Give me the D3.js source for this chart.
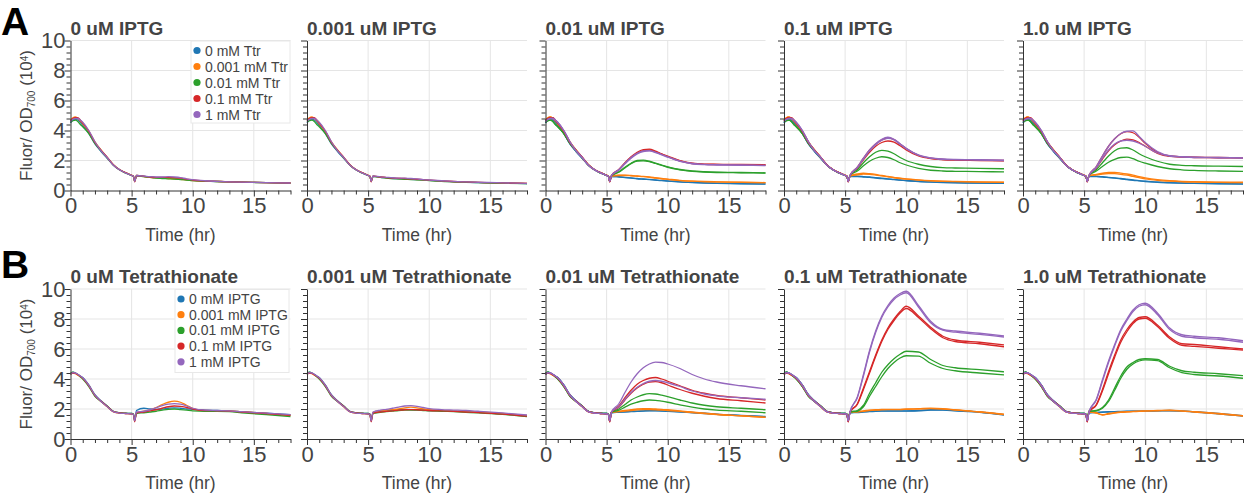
<!DOCTYPE html>
<html>
<head>
<meta charset="utf-8">
<script src="https://cdn.jsdelivr.net/npm/d3@7"></script>
<style>
  body { margin: 0; background: #fff; }
  svg { font-family: "Liberation Sans", Arial, Helvetica, sans-serif; display: block; }
</style>
</head>
<body>
<div id="chart"></div>
<script>
// time points (hr) - early phase shared by a row, late phase per series
const timeEarly = [0, 0.2, 0.4, 0.6, 0.8, 1.0, 1.5, 2.0, 2.5, 3.0, 3.5, 4.0, 4.5, 5.0, 5.15, 5.25];
const timeLate = [5.4, 6, 6.5, 7, 7.5, 8, 8.5, 9, 9.5, 10, 11, 12, 13, 14, 16, 18];

const titlesA = ["0 uM IPTG", "0.001 uM IPTG", "0.01 uM IPTG", "0.1 uM IPTG", "1.0 uM IPTG"];
const titlesB = ["0 uM Tetrathionate", "0.001 uM Tetrathionate", "0.01 uM Tetrathionate", "0.1 uM Tetrathionate", "1.0 uM Tetrathionate"];
const legendA = ["0 mM Ttr", "0.001 mM Ttr", "0.01 mM Ttr", "0.1 mM Ttr", "1 mM Ttr"];
const legendB = ["0 mM IPTG", "0.001 mM IPTG", "0.01 mM IPTG", "0.1 mM IPTG", "1 mM IPTG"];
const colors = ["#1f77b4", "#ff7f0e", "#2ca02c", "#d62728", "#9467bd"];

// early phase, one per colour (blue, orange, green, red, purple)
const earlyA = [
  [4.5, 4.7, 4.75, 4.7, 4.55, 4.35, 3.8, 3.1, 2.6, 2.15, 1.7, 1.38, 1.18, 1.0, 0.93, 0.62],
  [4.7, 4.85, 4.9, 4.8, 4.65, 4.45, 3.95, 3.25, 2.7, 2.2, 1.72, 1.4, 1.2, 1.02, 0.95, 0.6],
  [4.55, 4.65, 4.7, 4.6, 4.4, 4.25, 3.8, 3.15, 2.65, 2.18, 1.7, 1.38, 1.17, 1.0, 0.94, 0.62],
  [4.65, 4.8, 4.85, 4.85, 4.7, 4.5, 3.95, 3.2, 2.68, 2.22, 1.72, 1.4, 1.19, 1.01, 0.95, 0.58],
  [4.6, 4.75, 4.8, 4.8, 4.7, 4.55, 4.0, 3.25, 2.65, 2.2, 1.7, 1.39, 1.18, 1.0, 0.94, 0.6]
];
const earlyB = [
  [4.35, 4.45, 4.4, 4.3, 4.2, 4.1, 3.6, 2.95, 2.55, 2.2, 1.85, 1.75, 1.72, 1.7, 1.65, 1.2],
  [4.3, 4.4, 4.35, 4.25, 4.15, 4.05, 3.55, 2.9, 2.5, 2.15, 1.82, 1.72, 1.7, 1.68, 1.63, 1.25],
  [4.4, 4.45, 4.4, 4.3, 4.15, 4.0, 3.5, 2.85, 2.5, 2.2, 1.85, 1.75, 1.72, 1.7, 1.66, 1.3],
  [4.35, 4.4, 4.38, 4.28, 4.18, 4.05, 3.55, 2.9, 2.52, 2.18, 1.83, 1.74, 1.7, 1.68, 1.62, 1.15],
  [4.3, 4.42, 4.4, 4.32, 4.2, 4.08, 3.58, 2.92, 2.5, 2.16, 1.82, 1.73, 1.7, 1.68, 1.64, 1.22]
];

// late phase per panel: 5 series (one per colour) or 10 series (two replicates per colour)
const lateA1 = [
  [1.0, 0.95, 0.9, 0.86, 0.84, 0.82, 0.8, 0.76, 0.72, 0.68, 0.63, 0.6, 0.58, 0.56, 0.53, 0.5],
  [1.0, 0.93, 0.88, 0.84, 0.82, 0.8, 0.78, 0.75, 0.7, 0.66, 0.62, 0.6, 0.58, 0.56, 0.53, 0.5],
  [0.98, 0.92, 0.87, 0.82, 0.8, 0.78, 0.76, 0.73, 0.7, 0.66, 0.62, 0.6, 0.57, 0.55, 0.52, 0.49],
  [1.0, 0.95, 0.9, 0.88, 0.88, 0.88, 0.86, 0.82, 0.76, 0.7, 0.64, 0.61, 0.58, 0.56, 0.53, 0.5],
  [1.0, 0.96, 0.92, 0.9, 0.9, 0.92, 0.9, 0.86, 0.78, 0.72, 0.65, 0.61, 0.58, 0.56, 0.53, 0.5]
];
const lateA2 = [
  [0.95, 0.88, 0.84, 0.8, 0.78, 0.76, 0.74, 0.72, 0.7, 0.67, 0.62, 0.58, 0.55, 0.53, 0.5, 0.46],
  [0.96, 0.9, 0.86, 0.82, 0.8, 0.78, 0.76, 0.73, 0.7, 0.68, 0.63, 0.59, 0.56, 0.54, 0.5, 0.47],
  [0.94, 0.87, 0.83, 0.79, 0.77, 0.75, 0.73, 0.71, 0.69, 0.66, 0.61, 0.58, 0.55, 0.52, 0.49, 0.45],
  [0.96, 0.9, 0.86, 0.83, 0.81, 0.8, 0.78, 0.75, 0.72, 0.69, 0.64, 0.6, 0.57, 0.54, 0.51, 0.47],
  [0.97, 0.91, 0.88, 0.85, 0.83, 0.82, 0.8, 0.77, 0.73, 0.7, 0.65, 0.61, 0.57, 0.55, 0.51, 0.48]
];
const lateA3 = [
  [0.95, 0.92, 0.88, 0.84, 0.8, 0.77, 0.74, 0.7, 0.67, 0.64, 0.58, 0.54, 0.51, 0.49, 0.46, 0.44],
  [0.95, 0.9, 0.86, 0.82, 0.78, 0.75, 0.72, 0.69, 0.66, 0.62, 0.57, 0.53, 0.5, 0.48, 0.45, 0.43],
  [0.97, 1.02, 1.02, 1.0, 0.97, 0.94, 0.9, 0.85, 0.8, 0.76, 0.68, 0.63, 0.6, 0.58, 0.55, 0.53],
  [0.96, 1.0, 1.0, 0.98, 0.95, 0.92, 0.88, 0.83, 0.78, 0.74, 0.66, 0.62, 0.59, 0.57, 0.54, 0.52],
  [0.98, 1.25, 1.55, 1.82, 2.0, 2.02, 1.95, 1.82, 1.7, 1.58, 1.4, 1.3, 1.25, 1.22, 1.2, 1.18],
  [0.98, 1.22, 1.5, 1.78, 1.96, 1.98, 1.92, 1.8, 1.68, 1.55, 1.38, 1.28, 1.23, 1.2, 1.18, 1.16],
  [1.0, 1.4, 1.85, 2.25, 2.55, 2.72, 2.76, 2.62, 2.45, 2.3, 2.0, 1.82, 1.76, 1.75, 1.74, 1.72],
  [1.0, 1.38, 1.8, 2.2, 2.5, 2.66, 2.7, 2.58, 2.42, 2.26, 1.97, 1.8, 1.74, 1.73, 1.72, 1.7],
  [1.0, 1.38, 1.82, 2.2, 2.48, 2.64, 2.66, 2.55, 2.4, 2.25, 1.96, 1.8, 1.74, 1.72, 1.7, 1.68],
  [1.0, 1.36, 1.78, 2.15, 2.44, 2.6, 2.64, 2.52, 2.38, 2.22, 1.94, 1.78, 1.72, 1.7, 1.68, 1.66]
];
const lateA4 = [
  [0.95, 0.95, 0.93, 0.9, 0.86, 0.82, 0.78, 0.74, 0.7, 0.67, 0.61, 0.57, 0.54, 0.52, 0.5, 0.48],
  [0.95, 0.93, 0.9, 0.87, 0.83, 0.79, 0.76, 0.72, 0.69, 0.65, 0.6, 0.56, 0.53, 0.51, 0.49, 0.47],
  [0.98, 1.1, 1.15, 1.12, 1.07, 1.0, 0.94, 0.88, 0.82, 0.78, 0.71, 0.66, 0.63, 0.61, 0.58, 0.56],
  [0.97, 1.05, 1.1, 1.08, 1.03, 0.97, 0.91, 0.85, 0.8, 0.76, 0.69, 0.64, 0.61, 0.59, 0.56, 0.54],
  [1.0, 1.4, 1.85, 2.25, 2.55, 2.68, 2.62, 2.45, 2.2, 2.0, 1.75, 1.6, 1.52, 1.5, 1.48, 1.45],
  [1.0, 1.3, 1.65, 1.95, 2.15, 2.25, 2.2, 2.05, 1.85, 1.7, 1.48, 1.35, 1.3, 1.28, 1.26, 1.24],
  [1.0, 1.55, 2.15, 2.7, 3.1, 3.38, 3.5, 3.4, 3.1, 2.8, 2.35, 2.15, 2.08, 2.05, 2.02, 2.0],
  [1.0, 1.5, 2.05, 2.55, 2.95, 3.2, 3.3, 3.22, 2.98, 2.7, 2.3, 2.12, 2.05, 2.02, 2.0, 1.97],
  [1.0, 1.55, 2.15, 2.7, 3.12, 3.42, 3.55, 3.42, 3.12, 2.82, 2.38, 2.18, 2.1, 2.07, 2.05, 2.02],
  [1.0, 1.52, 2.1, 2.65, 3.05, 3.35, 3.48, 3.38, 3.08, 2.78, 2.35, 2.16, 2.08, 2.05, 2.03, 2.0]
];
const lateA5 = [
  [0.95, 0.95, 0.92, 0.88, 0.84, 0.8, 0.75, 0.7, 0.66, 0.62, 0.56, 0.52, 0.5, 0.48, 0.46, 0.44],
  [0.95, 0.93, 0.9, 0.86, 0.82, 0.78, 0.73, 0.68, 0.64, 0.6, 0.55, 0.51, 0.49, 0.47, 0.45, 0.43],
  [0.98, 1.08, 1.15, 1.2, 1.2, 1.16, 1.1, 1.02, 0.92, 0.84, 0.72, 0.65, 0.61, 0.59, 0.56, 0.55],
  [0.97, 1.04, 1.1, 1.13, 1.12, 1.08, 1.02, 0.94, 0.86, 0.78, 0.68, 0.62, 0.58, 0.56, 0.54, 0.52],
  [1.0, 1.4, 1.85, 2.3, 2.65, 2.82, 2.85, 2.7, 2.45, 2.25, 1.95, 1.75, 1.68, 1.65, 1.62, 1.6],
  [1.0, 1.3, 1.6, 1.88, 2.08, 2.2, 2.22, 2.12, 1.95, 1.82, 1.6, 1.45, 1.38, 1.34, 1.3, 1.28],
  [1.0, 1.6, 2.3, 2.95, 3.45, 3.78, 3.92, 3.85, 3.55, 3.15, 2.55, 2.3, 2.25, 2.22, 2.2, 2.18],
  [1.0, 1.5, 2.1, 2.65, 3.05, 3.3, 3.42, 3.38, 3.2, 2.95, 2.48, 2.27, 2.22, 2.2, 2.18, 2.16],
  [1.0, 1.6, 2.3, 2.95, 3.45, 3.8, 3.95, 3.98, 3.6, 3.2, 2.6, 2.32, 2.25, 2.22, 2.2, 2.18],
  [1.0, 1.52, 2.15, 2.7, 3.1, 3.3, 3.35, 3.3, 3.15, 2.95, 2.5, 2.3, 2.24, 2.2, 2.18, 2.16]
];
const lateB1 = [
  [1.9, 2.05, 2.0, 1.98, 2.0, 2.05, 2.08, 2.05, 2.0, 1.98, 1.92, 1.9, 1.88, 1.82, 1.72, 1.62],
  [1.75, 1.85, 1.95, 2.1, 2.3, 2.45, 2.52, 2.45, 2.25, 2.05, 1.85, 1.85, 1.88, 1.82, 1.7, 1.58],
  [1.7, 1.75, 1.8, 1.85, 1.92, 1.98, 2.0, 1.96, 1.92, 1.88, 1.85, 1.85, 1.82, 1.75, 1.62, 1.5],
  [1.75, 1.8, 1.88, 1.95, 2.05, 2.15, 2.2, 2.18, 2.1, 2.0, 1.9, 1.88, 1.86, 1.8, 1.7, 1.58],
  [1.8, 1.85, 1.95, 2.08, 2.22, 2.32, 2.36, 2.32, 2.2, 2.05, 1.92, 1.9, 1.88, 1.82, 1.72, 1.62]
];
const lateB2 = [
  [1.75, 1.85, 1.88, 1.92, 1.95, 1.97, 1.96, 1.94, 1.92, 1.9, 1.88, 1.85, 1.82, 1.78, 1.68, 1.55],
  [1.78, 1.88, 1.92, 1.96, 2.0, 2.08, 2.12, 2.08, 2.0, 1.95, 1.9, 1.87, 1.84, 1.8, 1.7, 1.57],
  [1.7, 1.78, 1.82, 1.86, 1.9, 1.92, 1.93, 1.92, 1.9, 1.88, 1.85, 1.82, 1.78, 1.74, 1.64, 1.5],
  [1.72, 1.8, 1.84, 1.88, 1.92, 1.95, 1.96, 1.95, 1.93, 1.9, 1.87, 1.84, 1.8, 1.76, 1.66, 1.52],
  [1.8, 1.92, 1.98, 2.05, 2.12, 2.2, 2.22, 2.18, 2.1, 2.02, 1.96, 1.93, 1.9, 1.85, 1.74, 1.6]
];
const lateB3 = [
  [1.75, 1.8, 1.82, 1.84, 1.86, 1.88, 1.9, 1.9, 1.88, 1.86, 1.82, 1.78, 1.72, 1.66, 1.58, 1.5],
  [1.75, 1.78, 1.8, 1.82, 1.84, 1.86, 1.87, 1.87, 1.86, 1.84, 1.8, 1.75, 1.7, 1.64, 1.56, 1.48],
  [1.78, 1.85, 1.9, 1.95, 2.0, 2.02, 2.02, 2.0, 1.98, 1.95, 1.88, 1.8, 1.72, 1.65, 1.55, 1.45],
  [1.76, 1.82, 1.86, 1.9, 1.94, 1.96, 1.96, 1.95, 1.93, 1.9, 1.84, 1.76, 1.7, 1.63, 1.54, 1.44],
  [1.8, 2.0, 2.3, 2.6, 2.8, 2.95, 3.02, 3.0, 2.92, 2.82, 2.6, 2.4, 2.25, 2.15, 2.05, 1.95],
  [1.78, 1.92, 2.12, 2.32, 2.45, 2.55, 2.6, 2.58, 2.52, 2.45, 2.28, 2.12, 2.0, 1.92, 1.85, 1.75],
  [1.8, 2.2, 2.75, 3.25, 3.65, 3.9, 4.05, 4.1, 4.0, 3.85, 3.55, 3.25, 3.05, 2.9, 2.75, 2.6],
  [1.8, 2.12, 2.6, 3.05, 3.4, 3.65, 3.8, 3.82, 3.75, 3.6, 3.3, 3.05, 2.85, 2.7, 2.55, 2.4],
  [1.8, 2.35, 3.1, 3.8, 4.35, 4.75, 5.0, 5.12, 5.1, 5.0, 4.7, 4.3, 4.0, 3.8, 3.55, 3.35],
  [1.8, 2.15, 2.65, 3.1, 3.45, 3.7, 3.85, 3.9, 3.85, 3.75, 3.5, 3.2, 3.0, 2.88, 2.75, 2.65]
];
const lateB4 = [
  [1.75, 1.78, 1.82, 1.85, 1.87, 1.88, 1.88, 1.88, 1.88, 1.88, 1.9, 1.95, 1.95, 1.9, 1.8, 1.62],
  [1.75, 1.76, 1.8, 1.83, 1.85, 1.86, 1.86, 1.86, 1.86, 1.86, 1.88, 1.92, 1.93, 1.88, 1.78, 1.6],
  [1.8, 1.82, 1.88, 1.92, 1.95, 1.97, 1.98, 1.98, 1.98, 2.0, 2.02, 2.05, 2.02, 1.95, 1.82, 1.65],
  [1.78, 1.8, 1.85, 1.9, 1.93, 1.95, 1.96, 1.96, 1.96, 1.98, 2.0, 2.02, 2.0, 1.93, 1.8, 1.63],
  [1.8, 1.9, 2.25, 3.05, 3.75, 4.45, 4.95, 5.35, 5.65, 5.85, 5.8, 5.3, 4.9, 4.75, 4.62, 4.48],
  [1.8, 1.85, 2.15, 2.85, 3.5, 4.15, 4.7, 5.1, 5.4, 5.55, 5.52, 5.05, 4.7, 4.55, 4.4, 4.28],
  [1.8, 2.35, 3.4, 4.5, 5.6, 6.6, 7.4, 8.0, 8.5, 8.85, 8.2, 7.45, 6.85, 6.6, 6.45, 6.28],
  [1.8, 2.3, 3.3, 4.4, 5.5, 6.5, 7.3, 7.9, 8.4, 8.7, 8.1, 7.35, 6.75, 6.5, 6.35, 6.15],
  [1.8, 2.8, 4.3, 5.9, 7.2, 8.2, 8.9, 9.4, 9.7, 9.85, 8.9, 7.85, 7.3, 7.2, 7.05, 6.88],
  [1.8, 2.75, 4.2, 5.8, 7.1, 8.1, 8.8, 9.3, 9.6, 9.75, 8.8, 7.75, 7.25, 7.12, 6.98, 6.8]
];
const lateB5 = [
  [1.75, 1.78, 1.8, 1.82, 1.83, 1.84, 1.85, 1.86, 1.86, 1.87, 1.88, 1.9, 1.88, 1.82, 1.7, 1.55],
  [1.75, 1.76, 1.78, 1.8, 1.82, 1.83, 1.84, 1.85, 1.85, 1.86, 1.87, 1.88, 1.86, 1.8, 1.68, 1.52],
  [1.85, 1.75, 1.62, 1.7, 1.76, 1.8, 1.82, 1.84, 1.86, 1.88, 1.9, 1.92, 1.88, 1.82, 1.7, 1.55],
  [1.8, 1.72, 1.6, 1.66, 1.72, 1.77, 1.8, 1.82, 1.84, 1.86, 1.88, 1.9, 1.86, 1.8, 1.68, 1.52],
  [1.85, 1.9, 2.1, 2.6, 3.4, 4.2, 4.8, 5.1, 5.3, 5.35, 5.3, 4.85, 4.55, 4.45, 4.35, 4.22],
  [1.85, 1.88, 2.05, 2.5, 3.25, 4.05, 4.65, 5.0, 5.2, 5.28, 5.22, 4.75, 4.42, 4.3, 4.2, 4.05],
  [1.8, 2.3, 3.3, 4.5, 5.6, 6.6, 7.3, 7.8, 8.1, 8.15, 7.6, 6.8, 6.35, 6.3, 6.15, 6.0],
  [1.8, 2.25, 3.2, 4.35, 5.45, 6.45, 7.15, 7.7, 8.0, 8.05, 7.5, 6.7, 6.25, 6.18, 6.05, 5.92],
  [1.8, 2.65, 3.95, 5.2, 6.3, 7.3, 8.0, 8.6, 8.95, 9.05, 8.4, 7.4, 6.95, 6.85, 6.75, 6.55],
  [1.8, 2.6, 3.85, 5.1, 6.2, 7.2, 7.9, 8.5, 8.85, 8.95, 8.3, 7.3, 6.85, 6.75, 6.65, 6.45]
];

const xTicks = [0, 5, 10, 15];
const yTicks = [0, 2, 4, 6, 8, 10];

// layout
const panelLeft = [70.5, 307, 545.5, 784, 1023];
const rowTop = [40.5, 289];
const panelW = 220, panelH = 150;
const textColor = "#444";

const svg = d3.select("#chart").append("svg")
  .attr("width", 1247)
  .attr("height", 494);

svg.append("rect").attr("width", 1247).attr("height", 494).attr("fill", "#fff");

const line = d3.line().curve(d3.curveMonotoneX);

function drawPanel(row, col, title, late, early, legendLabels) {
  const g = svg.append("g")
    .attr("transform", "translate(" + panelLeft[col] + "," + rowTop[row] + ")");

  const x = d3.scaleLinear().domain([0, 18]).range([0, panelW]);
  const y = d3.scaleLinear().domain([0, 10]).range([panelH, 0]);

  // grid lines
  g.append("g").selectAll("line").data(xTicks.slice(1)).join("line")
    .attr("x1", (d) => x(d)).attr("x2", (d) => x(d))
    .attr("y1", 0).attr("y2", panelH)
    .attr("stroke", "#e5e5e5");
  g.append("g").selectAll("line").data(yTicks.slice(1)).join("line")
    .attr("x1", 0).attr("x2", panelW)
    .attr("y1", (d) => y(d)).attr("y2", (d) => y(d))
    .attr("stroke", "#e5e5e5");

  // data lines
  const n = late.length;
  late.forEach((vals, i) => {
    const c = Math.floor(i * 5 / n);
    const pts = timeEarly.map((t, k) => [x(t), y(early[c][k])])
      .concat(timeLate.map((t, k) => [x(t), y(vals[k])]));
    g.append("path")
      .attr("d", line(pts))
      .attr("fill", "none")
      .attr("stroke", colors[c])
      .attr("stroke-width", 1.3)
      .attr("stroke-linejoin", "round");
  });

  // minor ticks
  const xMinor = d3.range(0, 19).filter((d) => d % 5 !== 0);
  const yMinor = d3.range(0, 26).map((d) => d * 0.4).filter((d) => Math.abs(d / 2 - Math.round(d / 2)) > 0.01);
  g.append("g").attr("transform", "translate(0," + panelH + ")")
    .call(d3.axisBottom(x).tickValues(xMinor).tickSize(4).tickFormat(""))
    .call((a) => a.select(".domain").remove())
    .selectAll("line").attr("stroke", "#333");
  g.append("g")
    .call(d3.axisLeft(y).tickValues(yMinor).tickSize(4).tickFormat(""))
    .call((a) => a.select(".domain").remove())
    .selectAll("line").attr("stroke", "#333");

  // major axes
  const xAxis = g.append("g").attr("transform", "translate(0," + panelH + ")")
    .call(d3.axisBottom(x).tickValues(xTicks).tickSize(6).tickSizeOuter(0).tickPadding(1));
  xAxis.select(".domain").attr("stroke", "#333");
  xAxis.selectAll("line").attr("stroke", "#333");
  xAxis.selectAll("text").attr("fill", textColor).style("font-size", "22px");

  const yAxis = g.append("g")
    .call(d3.axisLeft(y).tickValues(yTicks).tickSize(6).tickSizeOuter(0).tickPadding(-1));
  yAxis.select(".domain").attr("stroke", "#333");
  yAxis.selectAll("line").attr("stroke", "#333");
  if (col === 0) {
    yAxis.selectAll("text").attr("fill", textColor).style("font-size", "22px");
  } else {
    yAxis.selectAll("text").remove();
  }

  // title
  g.append("text")
    .attr("x", 0).attr("y", -6)
    .attr("fill", textColor)
    .style("font-size", "19px").style("font-weight", "bold")
    .text(title);

  // x axis label
  g.append("text")
    .attr("x", panelW / 2).attr("y", panelH + 50)
    .attr("text-anchor", "middle")
    .attr("fill", textColor)
    .style("font-size", "17.5px")
    .text("Time (hr)");

  if (col === 0) {
    // y axis label
    const lab = g.append("text")
      .attr("transform", "translate(" + (-38.5) + "," + (panelH / 2) + ") rotate(-90)")
      .attr("text-anchor", "middle")
      .attr("fill", textColor)
      .style("font-size", "17px");
    lab.append("tspan").text("Fluor/ OD");
    lab.append("tspan").attr("baseline-shift", "-30%").style("font-size", "10px").text("700");
    lab.append("tspan").text(" (10");
    lab.append("tspan").attr("baseline-shift", "45%").style("font-size", "10px").text("4");
    lab.append("tspan").text(")");

    // legend
    const lx = row === 0 ? 120.5 : 104.5;
    const lw = row === 0 ? 99 : 114;
    const step = row === 0 ? 16 : 15.7;
    const lh = row === 0 ? 82 : 83;
    g.append("rect")
      .attr("x", lx).attr("y", 0.5)
      .attr("width", lw).attr("height", lh)
      .attr("fill", "#fff")
      .attr("stroke", "#e8e8e8");
    legendLabels.forEach((label, i) => {
      const cy = 10 + i * step;
      g.append("circle")
        .attr("cx", lx + 6).attr("cy", cy).attr("r", 3.6)
        .attr("fill", colors[i]);
      g.append("text")
        .attr("x", lx + 14).attr("y", cy + 5)
        .attr("fill", textColor)
        .style("font-size", "14px")
        .text(label);
    });
  }
}

const lateRowA = [lateA1, lateA2, lateA3, lateA4, lateA5];
const lateRowB = [lateB1, lateB2, lateB3, lateB4, lateB5];

lateRowA.forEach((late, col) => drawPanel(0, col, titlesA[col], late, earlyA, legendA));
lateRowB.forEach((late, col) => drawPanel(1, col, titlesB[col], late, earlyB, legendB));

// panel letters
svg.append("text").attr("x", 1).attr("y", 35)
  .style("font-size", "39px").style("font-weight", "bold").attr("fill", "#000")
  .text("A");
svg.append("text").attr("x", 1).attr("y", 278)
  .style("font-size", "39px").style("font-weight", "bold").attr("fill", "#000")
  .text("B");
</script>
</body>
</html>
